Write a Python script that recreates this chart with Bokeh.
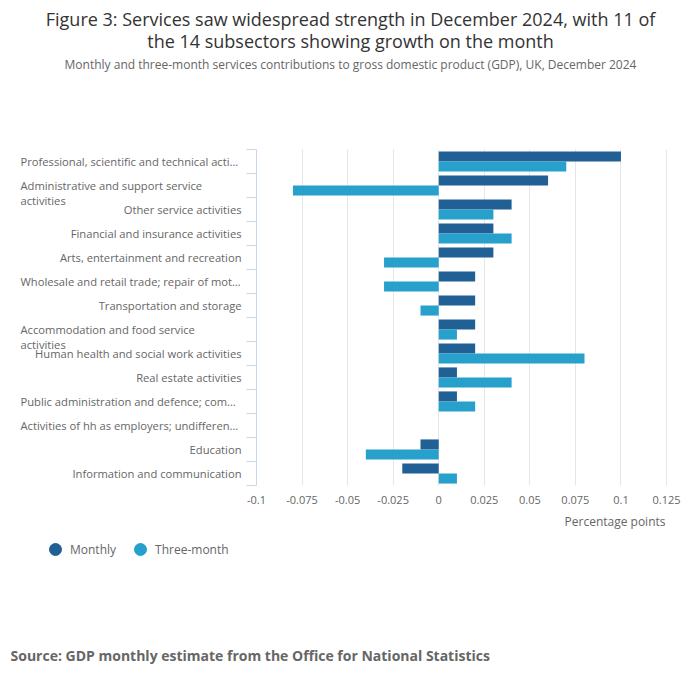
from bokeh.plotting import figure
from bokeh.models import (FixedTicker, Legend, LegendItem, ColumnDataSource, Range1d,
                          LinearAxis, Grid)
from bokeh.core.properties import value
from bokeh.embed import file_html
from bokeh.resources import INLINE

# ---------------- data ----------------
categories = [
    "Professional, scientific and technical acti…",
    "Administrative and support service\nactivities",
    "Other service activities",
    "Financial and insurance activities",
    "Arts, entertainment and recreation",
    "Wholesale and retail trade; repair of mot…",
    "Transportation and storage",
    "Accommodation and food service\nactivities",
    "Human health and social work activities",
    "Real estate activities",
    "Public administration and defence; com…",
    "Activities of hh as employers; undifferen…",
    "Education",
    "Information and communication",
]
label_left_aligned = [True, True, False, False, False, True, False, True, False, False, True, True, False, False]
monthly = [0.10, 0.06, 0.04, 0.03, 0.03, 0.02, 0.02, 0.02, 0.02, 0.01, 0.01, 0.0, -0.01, -0.02]
three_month = [0.07, -0.08, 0.03, 0.04, -0.03, -0.03, -0.01, 0.01, 0.08, 0.04, 0.02, 0.0, -0.04, 0.01]
x_ticks = [-0.1, -0.075, -0.05, -0.025, 0, 0.025, 0.05, 0.075, 0.1, 0.125]
x_tick_labels = ["-0.1", "-0.075", "-0.05", "-0.025", "0", "0.025", "0.05", "0.075", "0.1", "0.125"]
series_names = ["Monthly", "Three-month"]

title_lines = ["Figure 3: Services saw widespread strength in December 2024, with 11 of",
               "the 14 subsectors showing growth on the month"]
subtitle_text = "Monthly and three-month services contributions to gross domestic product (GDP), UK, December 2024"
source_text = "Source: GDP monthly estimate from the Office for National Statistics"
x_axis_title = "Percentage points"

# ---------------- style / layout ----------------
DARK = "#206095"
LIGHT = "#27A0CC"
FONT = "Open Sans"
GREY = "#666666"

W, H = 700, 682
PL, PR, PT, PB = 256, 666, 149, 485   # plot area (px) inside the full-canvas frame
VMIN, VMAX = -0.1, 0.125
n = len(categories)
CMIN, CMAX = -0.5, n - 0.5
sx = (VMAX - VMIN) / (PR - PL)
sy = (CMAX - CMIN) / (PB - PT)

def X(px):
    return VMIN + (px - PL) * sx

def Y(py):
    return CMAX - (py - PT) * sy

p = figure(width=W, height=H, output_backend="svg", toolbar_location=None,
           x_range=Range1d(X(0), X(W)), y_range=Range1d(Y(H), Y(0)),
           x_axis_type=None, y_axis_type=None,
           min_border=0, min_border_left=0, min_border_right=0,
           min_border_top=0, min_border_bottom=0)
p.outline_line_color = None
p.background_fill_color = "white"
p.border_fill_color = "white"

# grid (value axis)
grid = Grid(dimension=0, ticker=FixedTicker(ticks=x_ticks), grid_line_color="#e6e6e6", grid_line_width=1)
if "cross_bounds" in Grid.properties():
    grid.cross_bounds = (CMIN, CMAX)
    p.add_layout(grid)
else:
    p.segment(x0=x_ticks, x1=x_ticks, y0=[CMIN] * len(x_ticks), y1=[CMAX] * len(x_ticks),
              line_color="#e6e6e6", line_width=1)

ypos = [n - 1 - i for i in range(n)]
src = ColumnDataSource(dict(monthly=monthly, three=three_month,
                            ym=[v + 0.21 for v in ypos], yt=[v - 0.21 for v in ypos]))
p.hbar(y="ym", right="monthly", left=0, height=0.42, source=src, color=DARK, line_color=None)
p.hbar(y="yt", right="three", left=0, height=0.42, source=src, color=LIGHT, line_color=None)

# value axis (bottom of plot area)
xaxis = LinearAxis(fixed_location=CMIN, ticker=FixedTicker(ticks=x_ticks), bounds=(VMIN, VMAX))
xaxis.major_label_overrides = {t: l for t, l in zip(x_ticks, x_tick_labels)}
xaxis.axis_line_color = None
xaxis.major_tick_line_color = None
xaxis.major_tick_out = 0
xaxis.major_tick_in = 0
xaxis.minor_tick_line_color = None
xaxis.major_label_text_font = FONT
xaxis.major_label_text_font_size = "11px"
xaxis.major_label_text_color = GREY
xaxis.major_label_standoff = 10
p.add_layout(xaxis, "below")

# category axis line with boundary ticks
bounds = [i - 0.5 for i in range(n + 1)]
yaxis = LinearAxis(fixed_location=VMIN, ticker=FixedTicker(ticks=bounds), bounds=(CMIN, CMAX))
yaxis.major_label_overrides = {b: "" for b in bounds}
yaxis.axis_line_color = "#ccd6eb"
yaxis.major_tick_line_color = "#ccd6eb"
yaxis.major_tick_out = 10
yaxis.major_tick_in = 0
yaxis.minor_tick_line_color = None
p.add_layout(yaxis, "left")

# category labels
rx, ry, rt, lx, ly, lt = [], [], [], [], [], []
for i, (cat, left) in enumerate(zip(categories, label_left_aligned)):
    if left:
        lt.append(cat); lx.append(X(20))
        ly.append(ypos[i] - (7.5 * sy if "\n" in cat else 0))
    else:
        rt.append(cat); rx.append(X(241)); ry.append(ypos[i])
p.text(x=rx, y=ry, text=rt, text_align="right", text_baseline="middle",
       text_font=value(FONT), text_font_size="11.2px", text_color=GREY)
p.text(x=lx, y=ly, text=lt, text_align="left", text_baseline="middle",
       text_font=value(FONT), text_font_size="11.2px", text_color=GREY, text_line_height=1.0)

# titles and notes
p.text(x=[X(350)] * 2, y=[Y(18), Y(40)], text=title_lines, text_align="center", text_baseline="middle",
       text_font=value(FONT), text_font_size="18px", text_color="#333333")
p.text(x=[X(350)], y=[Y(64)], text=[subtitle_text], text_align="center", text_baseline="middle",
       text_font=value(FONT), text_font_size="12px", text_color=GREY)
p.text(x=[X(665)], y=[Y(521)], text=[x_axis_title], text_align="right", text_baseline="middle",
       text_font=value(FONT), text_font_size="12px", text_color=GREY)
p.text(x=[X(10)], y=[Y(655)], text=[source_text], text_align="left", text_baseline="middle",
       text_font=value(FONT), text_font_size="14px", text_font_style="bold", text_color=GREY)

# legend (marker renderers hold one point outside the visible canvas so that the legend can draw them)
off = ColumnDataSource(dict(x=[X(-100)], y=[Y(-100)]))
r1 = p.scatter("x", "y", source=off, marker="circle", size=12, color=DARK)
r2 = p.scatter("x", "y", source=off, marker="circle", size=12, color=LIGHT)
legend = Legend(items=[LegendItem(label=series_names[0], renderers=[r1]),
                       LegendItem(label=series_names[1], renderers=[r2])],
                orientation="horizontal", location=(40, 118),
                glyph_width=30, glyph_height=30, label_height=16, label_standoff=0, spacing=9,
                padding=0, margin=0, border_line_color=None, background_fill_alpha=0,
                label_text_font=FONT, label_text_font_size="12px", label_text_color=GREY)
p.add_layout(legend, "center")

open("out.html", "w").write(file_html(p, INLINE))
